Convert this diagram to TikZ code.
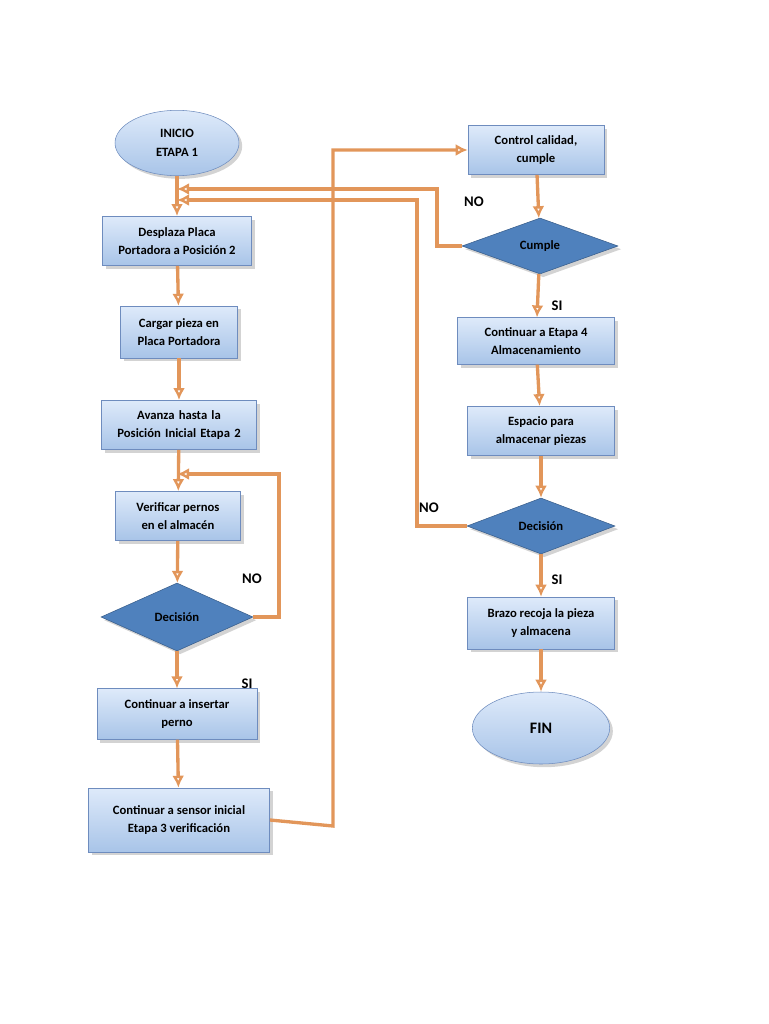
\documentclass[tikz,border=0pt]{standalone}
\usepackage{fontspec}
\setmainfont{Carlito}
\usetikzlibrary{shapes.geometric,shadows,arrows.meta}
\definecolor{boxedgecolor}{RGB}{110,140,190}
\definecolor{boxtopcolor}{RGB}{222,234,250}
\definecolor{boxbottomcolor}{RGB}{168,196,232}
\definecolor{decisioncolor}{RGB}{79,129,189}
\definecolor{decisionedgecolor}{RGB}{56,93,138}
\definecolor{flowcolor}{RGB}{226,150,90}
\tikzstyle{stepbox} = [draw=boxedgecolor, top color=boxtopcolor, bottom color=boxbottomcolor, drop shadow={opacity=0.35}, font=\bfseries\fontsize{9.5}{14}\selectfont, align=center, inner sep=2pt]
\tikzstyle{terminal} = [stepbox, ellipse]
\tikzstyle{decision} = [diamond, draw=decisionedgecolor, fill=decisioncolor, drop shadow={opacity=0.35}, font=\bfseries\fontsize{9.5}{12}\selectfont, inner sep=0pt]
\tikzstyle{flow} = [draw=flowcolor, line width=2.5pt, -{Latex[length=9pt,width=9pt,open]}]
\tikzstyle{label} = [font=\bfseries\fontsize{11}{13}\selectfont]

\begin{document}
\begin{tikzpicture}[x=0.75pt, y=-0.75pt]
	\useasboundingbox (0,0) rectangle (768,1024);
	
	% left column
	\node[terminal, minimum width=93pt, minimum height=49pt] (inicio) at (177,143) {INICIO\\ETAPA 1};
	\node[stepbox, minimum width=112pt, minimum height=37pt] (desplaza) at (177,241) {Desplaza Placa\\Portadora a Posición 2};
	\node[stepbox, minimum width=88pt, minimum height=39pt] (cargar) at (179,332) {Cargar pieza en\\Placa Portadora};
	\node[stepbox, minimum width=116pt, minimum height=37pt, text width=112pt] (avanza) at (179,425) {Avanza hasta la\\Posición Inicial Etapa 2};
	\node[stepbox, minimum width=94pt, minimum height=37pt] (verificar) at (178,516) {Verificar pernos\\en el almacén};
	\node[decision, minimum width=114pt, minimum height=51pt, shape aspect=2.2] (decision1) at (177,617) {Decisión};
	\node[stepbox, minimum width=120pt, minimum height=38pt] (insertar) at (177,714) {Continuar a insertar\\perno};
	\node[stepbox, minimum width=136pt, minimum height=48pt] (sensor) at (179,820) {Continuar a sensor inicial\\Etapa 3 verificación};
	
	% right column
	\node[stepbox, minimum width=102pt, minimum height=37pt] (control) at (536,150) {Control calidad,\\cumple};
	\node[decision, minimum width=117pt, minimum height=42pt, shape aspect=2.8] (cumple) at (540,246) {Cumple};
	\node[stepbox, minimum width=118pt, minimum height=35pt] (etapa4) at (536,341) {Continuar a Etapa 4\\Almacenamiento};
	\node[stepbox, minimum width=110pt, minimum height=37pt] (espacio) at (541,431) {Espacio para\\almacenar piezas};
	\node[decision, minimum width=111pt, minimum height=42pt, shape aspect=2.6] (decision2) at (541,526) {Decisión};
	\node[stepbox, minimum width=110pt, minimum height=39pt] (brazo) at (541,623) {Brazo recoja la pieza\\y almacena};
	\node[terminal, minimum width=103pt, minimum height=54pt, font=\bfseries\fontsize{12}{14}\selectfont] (fin) at (541,728) {FIN};
	
	\coordinate (joinverificar) at (177,474);
	\coordinate (joincumple) at (177,189);
	\coordinate (joindecision) at (177,200);
	
	\draw[flow] (inicio) -- (desplaza);
	\draw[flow] (desplaza) -- (cargar);
	\draw[flow] (cargar) -- (avanza);
	\draw[flow] (avanza) -- (verificar);
	\draw[flow] (verificar) -- (decision1);
	\draw[flow] (decision1) -- (insertar);
	\draw[flow] (insertar) -- (sensor);
	\draw[flow] (decision1.east) -- (279,617) |- (joinverificar);
	\draw[flow] (sensor.east) -- (333,826) |- (control.west);
	
	\draw[flow] (control) -- (cumple);
	\draw[flow] (cumple) -- (etapa4);
	\draw[flow] (etapa4) -- (espacio);
	\draw[flow] (espacio) -- (decision2);
	\draw[flow] (decision2) -- (brazo);
	\draw[flow] (brazo) -- (fin);
	\draw[flow] (cumple.west) -- (437,246) |- (joincumple);
	\draw[flow] (decision2.west) -- (417,526) |- (joindecision);
	
	\node[label] (si1) at (247,684) {SI};
	\node[label] (no1) at (252,579) {NO};
	\node[label] (no2) at (474,202) {NO};
	\node[label] (si2) at (557,306) {SI};
	\node[label] (no3) at (429,508) {NO};
	\node[label] (si3) at (557,580) {SI};
	
\end{tikzpicture}
\end{document}
